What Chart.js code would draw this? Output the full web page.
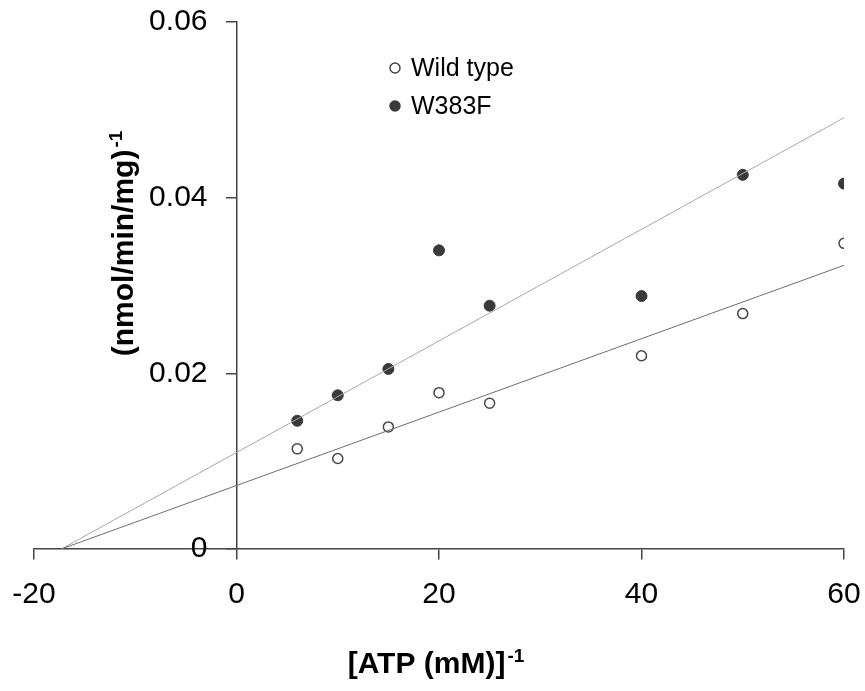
<!DOCTYPE html>
<html>
<head>
<meta charset="utf-8">
<script src="https://cdn.jsdelivr.net/npm/chart.js@4"></script>
<style>
  html, body { margin: 0; padding: 0; background: #ffffff; }
  #wrap { width: 865px; height: 691px; position: relative; }
</style>
</head>
<body>
<div id="wrap"><canvas id="c"></canvas></div>
<script>
// ---- data ----
const concentrations = [6, 10, 15, 20, 25, 40, 50, 60];
const wildType = [0.0114, 0.0103, 0.0139, 0.0178, 0.0166, 0.0220, 0.0268, 0.0348];
const w383f = [0.0146, 0.0175, 0.0205, 0.0340, 0.0277, 0.0288, 0.0426, 0.0416];
const fitX = [-17.3, 60];
const wildTypeFit = [0, 0.0323];
const w383fFit = [0, 0.0491];
const xTicks = [-20, 0, 20, 40, 60];
const yTicks = [0, 0.02, 0.04, 0.06];
const seriesNames = ['Wild type', 'W383F'];
const xTitle = '[ATP (mM)]';
const yTitle = '(nmol/min/mg)';
const titleSup = '-1';

const FONT = "'Liberation Sans', Arial, sans-serif";
Chart.defaults.font.family = FONT;
Chart.defaults.color = '#000';

const toPts = (xs, ys) => xs.map((x, i) => ({x: x, y: ys[i]}));

const fillDark = '#3a3a3a';
const openEdge = '#474747';
const Y_LABEL_GAP = 29;

// y axis sits at x = 0; move its tick labels away from the axis line
const yLabelGap = {
  id: 'yLabelGap',
  beforeDraw(chart) {
    const s = chart.scales.y;
    const items = s.getLabelItems();
    if (!items._shifted) {
      items.forEach(it => { it.options.translation[0] -= Y_LABEL_GAP; });
      items._shifted = true;
    }
  }
};

const annotations = {
  id: 'annotations',
  afterDraw(chart) {
    const ctx = chart.ctx;
    const a = chart.chartArea;
    ctx.save();
    ctx.fillStyle = '#000';
    // legend
    const lx = a.left + 361, ly = a.top + 46, gap = 38;
    const styles = [{fill: '#fff', stroke: openEdge}, {fill: fillDark, stroke: fillDark}];
    ctx.font = '25px ' + FONT;
    ctx.textBaseline = 'middle';
    ctx.textAlign = 'left';
    seriesNames.forEach((name, i) => {
      const y = ly + i * gap;
      ctx.beginPath();
      ctx.arc(lx, y, 5, 0, Math.PI * 2);
      ctx.fillStyle = styles[i].fill;
      ctx.fill();
      ctx.lineWidth = 1.5;
      ctx.strokeStyle = styles[i].stroke;
      ctx.stroke();
      ctx.fillStyle = '#000';
      ctx.fillText(name, lx + 16, y + 1);
    });
    // x title with superscript
    ctx.textBaseline = 'alphabetic';
    ctx.font = 'bold 30px ' + FONT;
    const w1 = ctx.measureText(xTitle).width;
    ctx.font = 'bold 19px ' + FONT;
    const w2 = ctx.measureText(titleSup).width;
    const cx = (a.left + a.right) / 2 - 3;
    const bx = cx - (w1 + w2 + 2) / 2;
    const by = a.bottom + 124;
    ctx.font = 'bold 30px ' + FONT;
    ctx.fillText(xTitle, bx, by);
    ctx.font = 'bold 19px ' + FONT;
    ctx.fillText(titleSup, bx + w1 + 2, by - 11);
    // y title, rotated
    ctx.font = 'bold 30px ' + FONT;
    const v1 = ctx.measureText(yTitle).width;
    ctx.font = 'bold 19px ' + FONT;
    const v2 = ctx.measureText(titleSup).width;
    const cy = (a.top + a.bottom) / 2 - 42;
    ctx.translate(a.left + 99, cy + (v1 + v2 + 2) / 2);
    ctx.rotate(-Math.PI / 2);
    ctx.font = 'bold 30px ' + FONT;
    ctx.fillText(yTitle, 0, 0);
    ctx.font = 'bold 19px ' + FONT;
    ctx.fillText(titleSup, v1 + 2, -11);
    ctx.restore();
  }
};

new Chart(document.getElementById('c'), {
  type: 'scatter',
  data: {
    datasets: [
      {
        label: seriesNames[0] + ' fit',
        type: 'line',
        data: toPts(fitX, wildTypeFit),
        borderColor: '#6e6e6e',
        borderWidth: 1,
        pointRadius: 0,
        fill: false
      },
      {
        label: seriesNames[1] + ' fit',
        type: 'line',
        data: toPts(fitX, w383fFit),
        borderColor: '#a8a8a8',
        borderWidth: 1,
        pointRadius: 0,
        fill: false
      },
      {
        label: seriesNames[0],
        data: toPts(concentrations, wildType),
        pointRadius: 5,
        pointBackgroundColor: '#ffffff',
        pointBorderColor: openEdge,
        pointBorderWidth: 1.5
      },
      {
        label: seriesNames[1],
        data: toPts(concentrations, w383f),
        pointRadius: 5.5,
        pointBackgroundColor: fillDark,
        pointBorderColor: fillDark,
        pointBorderWidth: 1
      }
    ]
  },
  options: {
    responsive: true,
    maintainAspectRatio: false,
    animation: false,
    layout: { padding: { left: 34, right: 21, top: 22, bottom: 142 } },
    plugins: { legend: { display: false }, tooltip: { enabled: false } },
    scales: {
      x: {
        type: 'linear',
        min: -20, max: 60,
        position: { y: 0 },
        afterBuildTicks: (s) => { s.ticks = xTicks.map(v => ({value: v})); },
        ticks: { font: { size: 30, lineHeight: 2.4 }, color: '#000', padding: 0 },
        grid: { display: true, drawOnChartArea: false, drawTicks: true, tickLength: 10, color: '#444', lineWidth: 1.5 },
        border: { display: true, color: '#444', width: 1.5 }
      },
      y: {
        type: 'linear',
        min: 0, max: 0.06,
        position: { x: 0 },
        afterBuildTicks: (s) => { s.ticks = yTicks.map(v => ({value: v})); },
        ticks: { font: { size: 30 }, color: '#000', padding: 0, callback: (v) => String(v) },
        grid: { display: true, drawOnChartArea: false, drawTicks: true, tickLength: 10, color: '#444', lineWidth: 1.5 },
        border: { display: true, color: '#444', width: 1.5 }
      }
    }
  },
  plugins: [yLabelGap, annotations]
});
</script>
</body>
</html>
